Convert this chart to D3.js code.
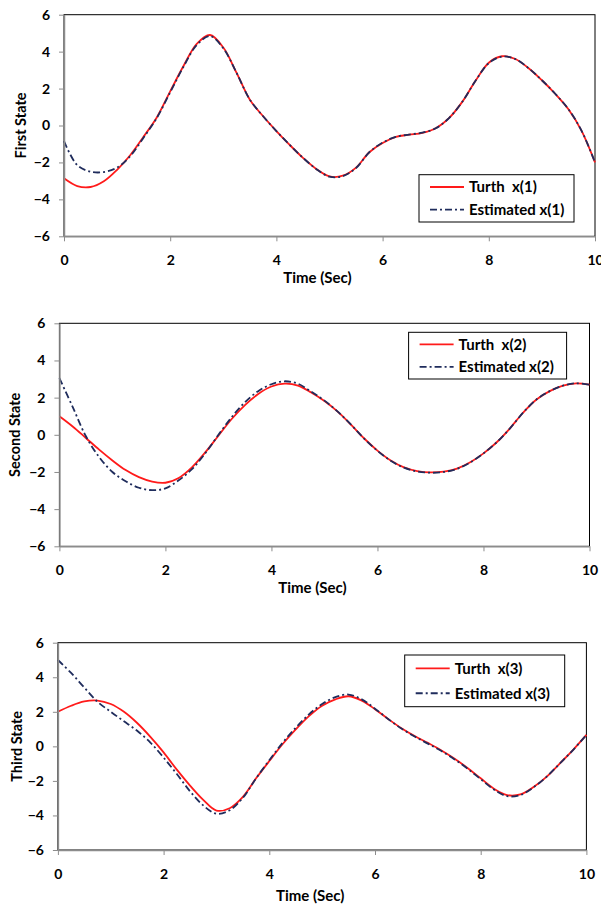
<!DOCTYPE html>
<html>
<head>
<meta charset="utf-8">
<script src="https://cdn.jsdelivr.net/npm/d3@7/dist/d3.min.js"></script>
<style>
  body { margin: 0; background: #fff; }
  svg text { font-family: Lato, "Liberation Sans", sans-serif; font-weight: 700; fill: #000; }
</style>
</head>
<body>
<div id="chart"></div>
<script>
'use strict';

// time grid shared by all series (sec)
var time = [0, 0.25, 0.5, 0.75, 1, 1.25, 1.5, 1.75, 2, 2.25, 2.5, 2.75, 3, 3.25, 3.5, 3.75, 4, 4.25, 4.5, 4.75,
            5, 5.25, 5.5, 5.75, 6, 6.25, 6.5, 6.75, 7, 7.25, 7.5, 7.75, 8, 8.25, 8.5, 8.75, 9, 9.25, 9.5, 9.75, 10];

var xTicks = [0, 2, 4, 6, 8, 10];
var yTicks = [-6, -4, -2, 0, 2, 4, 6];

var stateTitles = ['First State', 'Second State', 'Third State'];
var truthNames = ['Turth  x(1)', 'Turth  x(2)', 'Turth  x(3)'];
var estNames = ['Estimated x(1)', 'Estimated x(2)', 'Estimated x(3)'];

// first state
var truth1 = [-2.86, -3.28, -3.33, -3.02, -2.40, -1.60, -0.60, 0.45, 1.85, 3.22, 4.42, 4.90, 4.22, 2.85, 1.40, 0.50, -0.30, -1.05, -1.75, -2.35,
              -2.76, -2.72, -2.28, -1.45, -0.95, -0.62, -0.50, -0.40, -0.15, 0.40, 1.28, 2.42, 3.40, 3.75, 3.60, 3.10, 2.45, 1.72, 0.88, -0.30, -2.00];
var est1 = [-0.85, -2.15, -2.50, -2.52, -2.28, -1.65, -0.65, 0.42, 1.80, 3.18, 4.36, 4.84, 4.18, 2.85, 1.40, 0.50, -0.30, -1.05, -1.75, -2.35,
            -2.77, -2.74, -2.30, -1.45, -0.93, -0.61, -0.49, -0.39, -0.15, 0.40, 1.28, 2.42, 3.38, 3.73, 3.60, 3.10, 2.45, 1.72, 0.88, -0.30, -2.00];

// second state
var truth2 = [1.00, 0.45, -0.17, -0.80, -1.38, -1.90, -2.28, -2.52, -2.58, -2.32, -1.75, -0.95, -0.05, 0.85, 1.60, 2.20, 2.60, 2.75, 2.65, 2.28,
              1.82, 1.25, 0.55, -0.20, -0.85, -1.38, -1.75, -1.95, -2.02, -1.98, -1.82, -1.48, -1.00, -0.40, 0.35, 1.20, 1.90, 2.35, 2.65, 2.77, 2.70];
var est2 = [3.05, 1.50, -0.08, -1.20, -2.00, -2.50, -2.85, -2.98, -2.88, -2.45, -1.85, -1.00, 0.00, 0.95, 1.75, 2.35, 2.72, 2.88, 2.75, 2.32,
            1.84, 1.25, 0.55, -0.21, -0.86, -1.40, -1.77, -1.97, -2.04, -2.00, -1.83, -1.49, -1.00, -0.40, 0.35, 1.20, 1.90, 2.35, 2.65, 2.77, 2.70];

// third state
var truth3 = [2.00, 2.35, 2.60, 2.65, 2.45, 2.00, 1.35, 0.55, -0.35, -1.35, -2.27, -3.10, -3.72, -3.58, -2.92, -1.85, -0.85, 0.12, 0.98, 1.75,
              2.35, 2.72, 2.90, 2.65, 2.15, 1.58, 1.05, 0.60, 0.20, -0.22, -0.70, -1.25, -1.85, -2.45, -2.82, -2.78, -2.35, -1.75, -0.98, -0.20, 0.66];
var est3 = [5.00, 4.25, 3.40, 2.58, 2.00, 1.45, 0.90, 0.22, -0.65, -1.60, -2.60, -3.42, -3.90, -3.70, -2.98, -1.85, -0.80, 0.20, 1.08, 1.85,
            2.45, 2.85, 3.00, 2.72, 2.18, 1.58, 1.03, 0.57, 0.16, -0.26, -0.74, -1.29, -1.90, -2.50, -2.88, -2.82, -2.37, -1.75, -0.98, -0.20, 0.66];

var truthSeries = [truth1, truth2, truth3];
var estSeries = [est1, est2, est3];

// panel geometry (plot area, labels, legend box)
var panels = [
  { left: 64, right: 595, top: 14.7, bottom: 236.3, yTitleX: 21, xTitleY: 278,
    legend: { x: 419, y: 174.7, w: 155, h: 47.3 } },
  { left: 59.4, right: 589.5, top: 323.3, bottom: 546.3, yTitleX: 15, xTitleY: 588,
    legend: { x: 408.6, y: 332.3, w: 158, h: 46.7 } },
  { left: 57.9, right: 586.4, top: 642.7, bottom: 850, yTitleX: 17, xTitleY: 896,
    legend: { x: 404.7, y: 655, w: 160, h: 51.7 } }
];

var RED = '#ff1a1a';
var NAVY = '#1f2c5c';
var DASH = '7,3,2,3';

var svg = d3.select('#chart')
  .append('svg')
  .attr('width', 601)
  .attr('height', 906);

panels.forEach(function(p, i) {
  var x = d3.scaleLinear().domain([0, 10]).range([p.left, p.right]);
  var y = d3.scaleLinear().domain([-6, 6]).range([p.bottom, p.top]);
  var g = svg.append('g');

  // plot area border
  g.append('rect')
    .attr('x', p.left).attr('y', p.top)
    .attr('width', p.right - p.left).attr('height', p.bottom - p.top)
    .attr('fill', 'none').attr('stroke', '#000').attr('stroke-width', 1);

  var line = d3.line()
    .x(function(d, k) { return x(time[k]); })
    .y(function(d) { return y(d); })
    .curve(d3.curveCatmullRom.alpha(0.5));

  g.append('path')
    .attr('d', line(truthSeries[i]))
    .attr('fill', 'none').attr('stroke', RED).attr('stroke-width', 1.8);

  g.append('path')
    .attr('d', line(estSeries[i]))
    .attr('fill', 'none').attr('stroke', NAVY).attr('stroke-width', 1.8)
    .attr('stroke-dasharray', DASH);

  // axes (grey, ticks outside)
  var yAxis = g.append('g')
    .attr('transform', 'translate(' + p.left + ',0)')
    .call(d3.axisLeft(y).tickValues(yTicks).tickSize(5).tickPadding(9).tickSizeOuter(0));
  var xAxis = g.append('g')
    .attr('transform', 'translate(0,' + p.bottom + ')')
    .call(d3.axisBottom(x).tickValues(xTicks).tickSize(5).tickPadding(14).tickSizeOuter(0));

  [yAxis, xAxis].forEach(function(a) {
    a.select('.domain').attr('stroke', '#8c8c8c').attr('stroke-width', 1.5);
    a.selectAll('.tick line').attr('stroke', '#8c8c8c').attr('stroke-width', 1);
    a.selectAll('.tick text')
      .style('font-family', 'Lato, sans-serif')
      .style('font-weight', 700)
      .style('font-size', '14px')
      .attr('fill', '#000');
  });

  // axis titles
  g.append('text')
    .attr('x', (p.left + p.right) / 2 - 12)
    .attr('y', p.xTitleY)
    .attr('dy', '0.35em')
    .attr('text-anchor', 'middle')
    .style('font-size', '15px')
    .text('Time (Sec)');

  g.append('text')
    .attr('transform', 'translate(' + p.yTitleX + ',' + (p.top + p.bottom) / 2 + ') rotate(-90)')
    .attr('dy', '0.35em')
    .attr('text-anchor', 'middle')
    .style('font-size', '14.5px')
    .text(stateTitles[i]);

  // legend
  var L = p.legend;
  var lg = g.append('g').attr('transform', 'translate(' + L.x + ',' + L.y + ')');
  lg.append('rect')
    .attr('width', L.w).attr('height', L.h)
    .attr('fill', '#fff').attr('stroke', '#000').attr('stroke-width', 1);

  var rows = [
    { name: truthNames[i], color: RED, dash: null },
    { name: estNames[i], color: NAVY, dash: DASH }
  ];
  rows.forEach(function(r, k) {
    var ry = L.h * (k === 0 ? 0.26 : 0.74);
    lg.append('line')
      .attr('x1', 11).attr('x2', 45)
      .attr('y1', ry).attr('y2', ry)
      .attr('stroke', r.color).attr('stroke-width', 1.8)
      .attr('stroke-dasharray', r.dash);
    lg.append('text')
      .attr('x', 50).attr('y', ry)
      .attr('dy', '0.35em')
      .style('font-size', '15px')
      .style('white-space', 'pre')
      .text(r.name);
  });
});
</script>
</body>
</html>
